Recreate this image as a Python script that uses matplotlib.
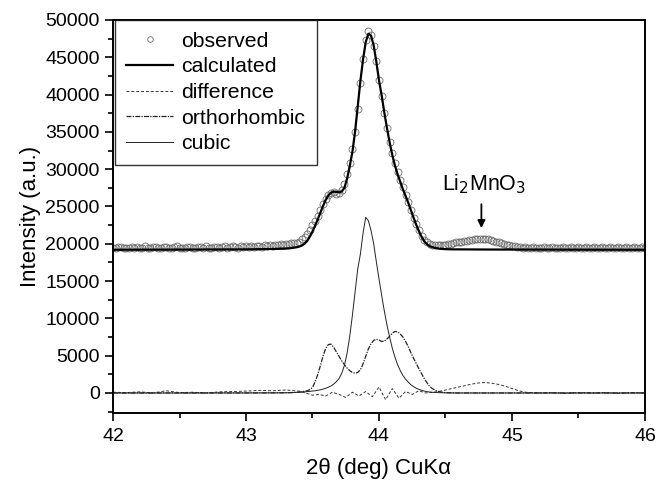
import numpy as np
import matplotlib
matplotlib.use("Agg")
import matplotlib.pyplot as plt
from matplotlib.ticker import MultipleLocator

plt.rcParams['font.family'] = ['Liberation Sans', 'DejaVu Sans']

# observed scan: 2theta from 42.00 to 46.00, step 0.02
obs_start, obs_step = 42.0, 0.02
obs_y = [
    19500, 19450, 19550, 19600, 19450, 19500, 19400, 19550, 19500, 19600,
    19450, 19500, 19650, 19500, 19400, 19550, 19600, 19500, 19450, 19550,
    19600, 19500, 19450, 19550, 19650, 19500, 19400, 19500, 19600, 19550,
    19500, 19450, 19600, 19550, 19500, 19650, 19500, 19450, 19550, 19600,
    19500, 19550, 19650, 19500, 19600, 19700, 19550, 19500, 19650, 19600,
    19650, 19550, 19700, 19600, 19750, 19650, 19600, 19800, 19700, 19850,
    19750, 19900, 19800, 19950, 19900, 20000, 19950, 20050, 20100, 20150,
    20300, 20600, 20900, 21300, 21900, 22500, 23000, 23700, 24500, 25300,
    26000, 26500, 26800, 26900, 26700, 26800, 27200, 28000, 29300, 30800,
    32700, 35000, 38000, 41500, 44800, 47300, 48500, 48000, 46500, 44500,
    42000, 39800, 37500, 35500, 33700, 32200, 30800, 29600, 28600, 27600,
    26600, 25600, 24500, 23500, 22600, 21800, 21100, 20500, 20200, 20000,
    19900, 19800, 19800, 19800, 19900, 19900, 20000, 20000, 20100, 20200,
    20200, 20300, 20400, 20400, 20500, 20500, 20600, 20600, 20700, 20700,
    20600, 20600, 20500, 20400, 20300, 20200, 20100, 20000, 19900, 19800,
    19700, 19700, 19600, 19550, 19500, 19600, 19450, 19500, 19550, 19400,
    19500, 19450, 19550, 19400, 19500, 19600, 19450, 19500, 19400, 19550,
    19500, 19450, 19600, 19500, 19400, 19550, 19500, 19450, 19600, 19500,
    19400, 19550, 19500, 19450, 19600, 19500, 19400, 19550, 19450, 19500,
    19600, 19450, 19500, 19550, 19400, 19500, 19600, 19450, 19500, 19550,
    19500,
]
obs_x = obs_start + obs_step * np.arange(len(obs_y))

# fitted components
comp_x = [42.0, 42.5, 43.0, 43.2,
          43.30, 43.32, 43.34, 43.36, 43.38, 43.40, 43.42, 43.44, 43.46, 43.48,
          43.50, 43.52, 43.54, 43.56, 43.58, 43.60, 43.62, 43.64, 43.66, 43.68,
          43.70, 43.72, 43.74, 43.76, 43.78, 43.80, 43.82, 43.84, 43.86, 43.88,
          43.90, 43.92, 43.94, 43.96, 43.98, 44.00, 44.02, 44.04, 44.06, 44.08,
          44.10, 44.12, 44.14, 44.16, 44.18, 44.20, 44.22, 44.24, 44.26, 44.28,
          44.30, 44.32, 44.34, 44.36, 44.38, 44.40, 44.42, 44.44, 44.46, 44.48,
          44.50, 44.52, 44.54, 44.56, 44.58, 44.60,
          44.8, 45.2, 46.0]
calc_y = [19200, 19220, 19250, 19300,
          19350, 19380, 19420, 19470, 19530, 19620, 19760, 20000, 20380, 20950,
          21650, 22450, 23300, 24200, 25100, 25900, 26500, 26850, 27000, 26950,
          26900, 27000, 27500, 28700, 30400, 32300, 35000, 38400, 41800, 44700,
          47000, 48150, 47900, 46600, 44400, 41900, 39900, 37600, 35500, 33600,
          31900, 30500, 29300, 28300, 27300, 26400, 25500, 24500, 23500, 22550,
          21700, 20950, 20350, 19950, 19700, 19550, 19450, 19380, 19330, 19300,
          19280, 19270, 19260, 19250, 19250, 19250,
          19230, 19220, 19200]
ortho_y = [0, 0, 0, 10,
           30, 40, 50, 70, 90, 120, 160, 220, 300, 450,
           750, 1500, 2500, 3700, 5000, 6000, 6500, 6550, 6100, 5500,
           4900, 4300, 3800, 3350, 3000, 2750, 2650, 2750, 3100, 3900,
           4900, 5900, 6600, 7050, 7200, 7100, 6900, 6950, 7250, 7600,
           8000, 8250, 8200, 7900, 7500, 6900, 6200, 5400, 4650, 3950,
           3250, 2600, 1950, 1400, 900, 600, 400, 250, 150, 90,
           50, 30, 20, 10, 5, 0,
           0, 0, 0]
cubic_y = [0, 0, 10, 20,
           30, 40, 50, 60, 80, 100, 120, 150, 180, 220,
           260, 300, 360, 420, 520, 640, 780, 950, 1200, 1520,
           1950, 2640, 3700, 5300, 7600, 10400, 13500, 16600, 18600, 21400,
           23550, 23100, 21800, 20000, 17600, 15300, 13100, 11000, 9100, 7500,
           6000, 4800, 3800, 3000, 2350, 1850, 1450, 1100, 850, 640,
           480, 360, 260, 180, 130, 90, 70, 50, 40, 30,
           20, 15, 10, 10, 5, 0,
           0, 0, 0]

diff_x = [42.0, 42.1, 42.2, 42.3, 42.4, 42.5, 42.6, 42.7, 42.8, 42.9,
          43.0, 43.1, 43.2, 43.3, 43.4, 43.45, 43.5, 43.55, 43.6, 43.65,
          43.7, 43.75, 43.8, 43.85, 43.9, 43.95, 44.0, 44.05, 44.1, 44.15,
          44.2, 44.25, 44.3, 44.35, 44.4, 44.45, 44.5, 44.55, 44.6, 44.65,
          44.7, 44.75, 44.8, 44.85, 44.9, 44.95, 45.0, 45.05, 45.1, 45.2,
          45.3, 45.4, 45.5, 45.6, 45.7, 45.8, 45.9, 46.0]
diff_y = [100, 50, 150, 0, 300, 50, 100, 0, 150, 200,
          250, 350, 300, 400, 250, 0, -300, -200, -400, 100,
          -200, -600, 100, -400, 200, -500, 800, -900, 600, -700,
          200, -200, 300, 0, 100, 200, 400, 600, 800, 1000,
          1200, 1350, 1400, 1300, 1150, 900, 600, 300, 100, 0,
          50, -50, 50, 0, 50, -50, 50, 0]

fig = plt.figure(figsize=(6.57, 4.82), dpi=100)
ax = fig.add_axes([0.172, 0.1432, 0.8097, 0.8154])

ax.plot(obs_x, obs_y, linestyle='none', marker='o', markersize=5,
        markerfacecolor='none', markeredgecolor='#6a6a6a', markeredgewidth=0.6,
        label='observed', zorder=2)
ax.plot(comp_x, calc_y, color='black', lw=1.6, label='calculated', zorder=3)
ax.plot(diff_x, diff_y, color='#333333', lw=0.7, linestyle=(0, (3, 2)),
        label='difference', zorder=2)
ax.plot(comp_x, ortho_y, color='#222222', lw=0.9, linestyle=(0, (4, 1, 1, 1)),
        label='orthorhombic', zorder=2)
ax.plot(comp_x, cubic_y, color='#222222', lw=0.7, label='cubic', zorder=2)

ax.set_xlim(42, 46)
ax.set_ylim(-2680, 50000)
ax.xaxis.set_major_locator(MultipleLocator(1))
ax.xaxis.set_minor_locator(MultipleLocator(0.5))
ax.yaxis.set_major_locator(MultipleLocator(5000))
ax.yaxis.set_minor_locator(MultipleLocator(2500))
ax.tick_params(which='both', direction='out', top=False, right=False,
               labelsize=14, width=1.2)
ax.tick_params(which='major', length=6)
ax.tick_params(which='minor', length=3.5)
ax.tick_params(axis='x', which='major', pad=5)
for s in ax.spines.values():
    s.set_linewidth(1.4)

ax.set_xlabel('2θ (deg) CuKα', fontsize=16, labelpad=9)
ax.set_ylabel('Intensity (a.u.)', fontsize=16, labelpad=3)

ax.text(44.79, 27200, 'Li$_2$MnO$_3$', fontsize=15.5, ha='center', va='baseline')
ax.annotate('', xy=(44.77, 22100), xytext=(44.77, 25300),
            arrowprops=dict(arrowstyle='-|>', color='black', lw=1.3,
                            mutation_scale=11, shrinkA=0, shrinkB=0))

leg = ax.legend(loc='upper left', bbox_to_anchor=(0.003, 1.0), borderaxespad=0.0,
                fontsize=15.3, frameon=True, fancybox=False, labelspacing=0.31,
                handlelength=2.2, handletextpad=0.35, borderpad=0.56,
                markerscale=0.8)
leg.get_frame().set_edgecolor('black')
leg.get_frame().set_linewidth(1.0)

fig.savefig('out.png', dpi=100)
